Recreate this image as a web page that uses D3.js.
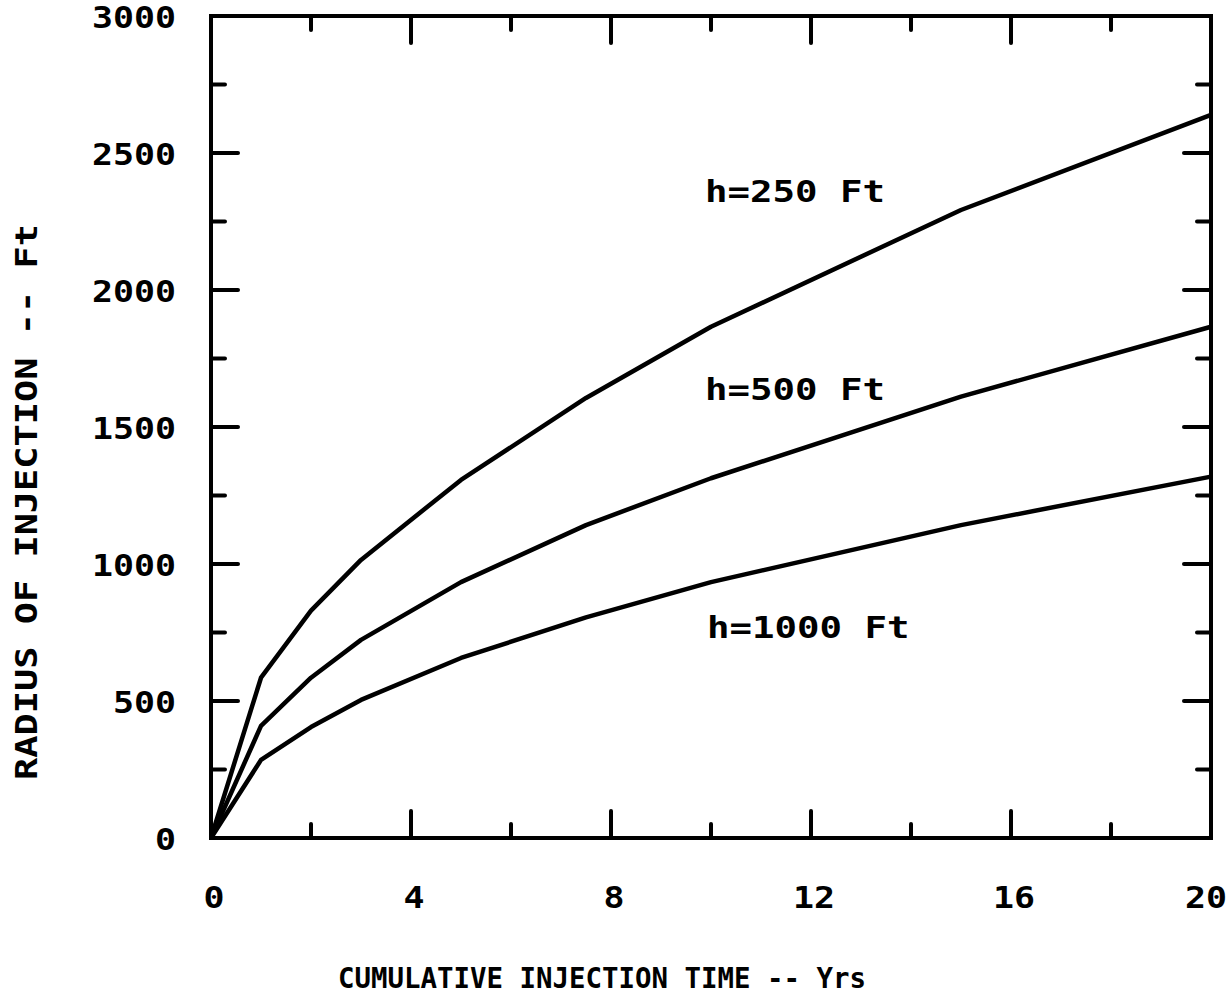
<!DOCTYPE html>
<html>
<head>
<meta charset="utf-8">
<script src="https://cdn.jsdelivr.net/npm/d3@7"></script>
<style>
  html, body { margin: 0; padding: 0; background: #fff; }
  svg text { font-family: "DejaVu Sans Mono", "Liberation Mono", monospace; font-weight: bold; fill: #000; }
</style>
</head>
<body>
<svg id="chart" width="1231" height="995"></svg>
<script>
// ---- data ----
const years = [0, 1, 2, 3, 5, 7.5, 10, 15, 20];
const radius250 = [0, 585, 830, 1015, 1307, 1606, 1866, 2292, 2639];
const radius500 = [0, 409, 585, 723, 934, 1142, 1313, 1611, 1866];
const radius1000 = [0, 285, 405, 504, 657, 805, 934, 1142, 1319];
const seriesLabels = ["h=250 Ft", "h=500 Ft", "h=1000 Ft"];
const xTickLabels = [0, 4, 8, 12, 16, 20];
const yTickLabels = [0, 500, 1000, 1500, 2000, 2500, 3000];
const xTitle = "CUMULATIVE INJECTION TIME -- Yrs";
const yTitle = "RADIUS OF INJECTION -- Ft";

const svg = d3.select("#chart");
const L = 211, R = 1211, T = 16, B = 838;
const x = d3.scaleLinear().domain([0, 20]).range([L, R]);
const y = d3.scaleLinear().domain([0, 3000]).range([B, T]);

const stroke = 4;
const major = 27, minor = 14;

// ticks (inward on all four sides)
const g = svg.append("g").attr("stroke", "#000").attr("stroke-width", stroke).attr("stroke-linecap", "round");
const xt = d3.range(0, 21, 2);
xt.forEach(v => {
  const len = (v % 4 === 0) ? major : minor;
  if (v > 0 && v < 20) {
    g.append("line").attr("x1", x(v)).attr("x2", x(v)).attr("y1", B).attr("y2", B - len);
    g.append("line").attr("x1", x(v)).attr("x2", x(v)).attr("y1", T).attr("y2", T + len);
  }
});
const yt = d3.range(0, 3001, 250);
yt.forEach(v => {
  const len = (v % 500 === 0) ? major : minor;
  if (v > 0 && v < 3000) {
    g.append("line").attr("x1", L).attr("x2", L + len).attr("y1", y(v)).attr("y2", y(v));
    g.append("line").attr("x1", R).attr("x2", R - len).attr("y1", y(v)).attr("y2", y(v));
  }
});

// frame
svg.append("rect").attr("x", L).attr("y", T).attr("width", R - L).attr("height", B - T)
  .attr("fill", "none").attr("stroke", "#000").attr("stroke-width", stroke);

// curves
const line = d3.line().x((d, i) => x(years[i])).y(d => y(d));
[radius250, radius500, radius1000].forEach(s => {
  svg.append("path").attr("d", line(s)).attr("fill", "none").attr("stroke", "#000")
    .attr("stroke-width", 4.5).attr("stroke-linejoin", "round");
});

// curve labels
const labelPos = [[705, 202], [705, 400], [707, 638]];
seriesLabels.forEach((t, i) => {
  svg.append("text").attr("x", labelPos[i][0]).attr("y", labelPos[i][1])
    .attr("font-size", 30).attr("textLength", t.length * 22.5).attr("lengthAdjust", "spacingAndGlyphs")
    .text(t);
});

// y tick labels
yTickLabels.forEach(v => {
  const s = String(v);
  svg.append("text").attr("x", 176).attr("y", y(v) + 12)
    .attr("text-anchor", "end").attr("font-size", 30)
    .attr("textLength", s.length * 21).attr("lengthAdjust", "spacingAndGlyphs").text(s);
});

// x tick labels
xTickLabels.forEach(v => {
  const s = String(v);
  svg.append("text").attr("x", Math.min(x(v) + 3, 1206)).attr("y", 908)
    .attr("text-anchor", "middle").attr("font-size", 30)
    .attr("textLength", s.length * 21).attr("lengthAdjust", "spacingAndGlyphs").text(s);
});

// axis titles
svg.append("text").attr("x", 338).attr("y", 988).attr("font-size", 29)
  .attr("textLength", 528).attr("lengthAdjust", "spacingAndGlyphs").text(xTitle);

svg.append("text").attr("transform", "translate(37,502) rotate(-90)")
  .attr("text-anchor", "middle").attr("font-size", 30)
  .attr("textLength", 556).attr("lengthAdjust", "spacingAndGlyphs").text(yTitle);
</script>
</body>
</html>
